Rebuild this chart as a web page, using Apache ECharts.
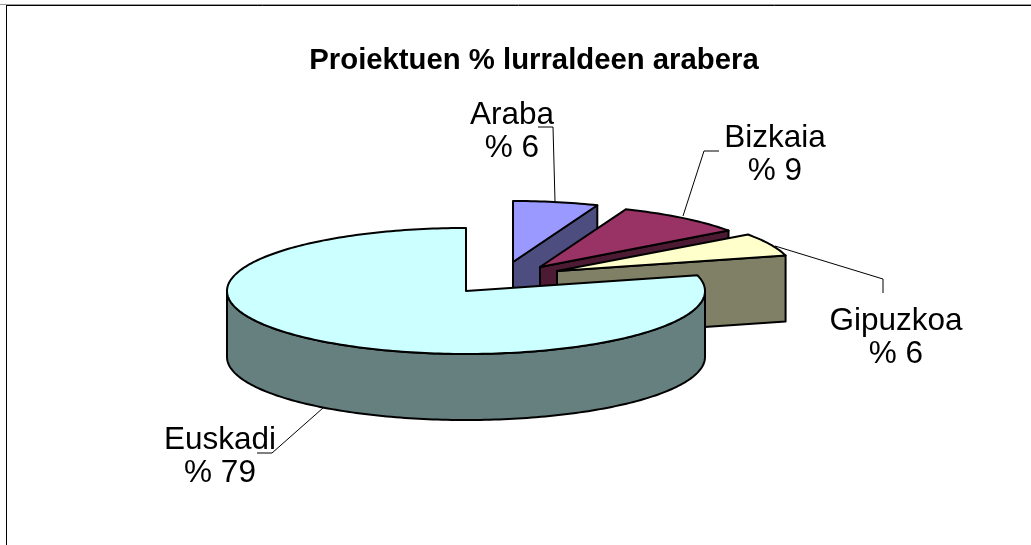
<!DOCTYPE html>
<html>
<head>
<meta charset="utf-8">
<style>html,body{margin:0;padding:0;background:#fff}#c{width:1031px;height:545px}</style>
<script src="https://cdn.jsdelivr.net/npm/echarts@6/dist/echarts.min.js"></script>
</head>
<body>
<div id="c"></div>
<script>
const categories = ['Araba', 'Bizkaia', 'Gipuzkoa', 'Euskadi'];
const shares = [6, 9, 6, 79];
const chartTitle = 'Proiektuen % lurraldeen arabera';
const labelPrefix = '% ';

const topColors = ['#9999FF', '#993366', '#FFFFCC', '#CCFFFF'];
const sideColors = ['#4D4D80', '#4D1A33', '#808066', '#668080'];
// exploded slice geometry (layout only)
const sliceCx = [513, 540, 557, 466];
const sliceCy = [262, 267, 271, 291];
const sliceRx = [229, 233, 236, 239];
const sliceRy = [61, 62, 62, 63];
const depth = 66;
// label layout
const labelX = [512, 775, 896, 220];
const labelY = [132, 155, 338, 457];
const leaderPts = [
  [[538,127],[553,127],[555,201]],
  [[719,151],[704,151],[683,216]],
  [[883,293],[883,279],[775,246]],
  [[257,453],[272,453],[323,408]]
];

const total = shares.reduce((a, b) => a + b, 0);
const INK = '#000';
const LW = 2;
const FONT = '"Liberation Sans", Arial, sans-serif';

function renderSlice(params, api) {
  const i = params.dataIndex;
  const value = api.value(1);
  let before = 0;
  for (let k = 0; k < i; k++) before += shares[k];
  const a0 = before / total * Math.PI * 2;
  const a1 = (before + value) / total * Math.PI * 2;
  const cx = sliceCx[i], cy = sliceCy[i], rx = sliceRx[i], ry = sliceRy[i];
  const P = (a, dz) => [cx + rx * Math.sin(a), cy - ry * Math.cos(a) + (dz || 0)];
  const arc = (s, e, dz) => {
    const n = Math.max(2, Math.ceil(Math.abs(e - s) / 0.02));
    const pts = [];
    for (let j = 0; j <= n; j++) pts.push(P(s + (e - s) * j / n, dz));
    return pts;
  };
  const poly = (points, fill) => ({
    type: 'polygon', shape: { points },
    style: { fill, stroke: INK, lineWidth: LW, lineJoin: 'round' }
  });
  const children = [];
  const side = sideColors[i];
  // cut face at the end angle
  if (a1 < Math.PI * 2 - 1e-6) {
    children.push(poly([[cx, cy], P(a1), P(a1, depth), [cx, cy + depth]], side));
  }
  // outer wall: front half of the ellipse only
  const w0 = Math.max(a0, Math.PI / 2), w1 = Math.min(a1, Math.PI * 1.5);
  if (w1 > w0) {
    children.push(poly(arc(w0, w1, 0).concat(arc(w1, w0, depth)), side));
  }
  // top face
  children.push(poly([[cx, cy]].concat(arc(a0, a1, 0)), topColors[i]));
  // leader
  children.push({
    type: 'polyline', shape: { points: leaderPts[i] },
    style: { fill: 'none', stroke: INK, lineWidth: 1 }
  });
  // label
  children.push({
    type: 'text',
    style: {
      x: labelX[i], y: labelY[i],
      text: api.value(0) + '\n' + labelPrefix + value,
      fill: INK, font: '31.5px ' + FONT,
      align: 'center', verticalAlign: 'middle', lineHeight: 33
    },
    z2: 5
  });
  return { type: 'group', children };
}

const chart = echarts.init(document.getElementById('c'), null, { renderer: 'canvas' });
chart.setOption({
  animation: false,
  backgroundColor: '#fff',
  title: {
    text: chartTitle, left: 529, top: 56, textAlign: 'center', textVerticalAlign: 'middle',
    textStyle: { fontFamily: FONT, fontSize: 29.3, fontWeight: 'bold', color: INK }
  },
  graphic: [
    { type: 'line', shape: { x1: 0, y1: 4.5, x2: 1031, y2: 4.5 }, style: { stroke: '#999', lineWidth: 1 }, silent: true },
    { type: 'line', shape: { x1: 6, y1: 5.5, x2: 1031, y2: 5.5 }, style: { stroke: INK, lineWidth: 1 }, silent: true },
    { type: 'line', shape: { x1: 6.5, y1: 5, x2: 6.5, y2: 545 }, style: { stroke: INK, lineWidth: 1 }, silent: true }
  ],
  series: [{
    type: 'custom',
    coordinateSystem: 'none',
    renderItem: renderSlice,
    encode: { itemName: 0, value: 1 },
    data: categories.map((c, i) => [c, shares[i]])
  }]
});
</script>
</body>
</html>
